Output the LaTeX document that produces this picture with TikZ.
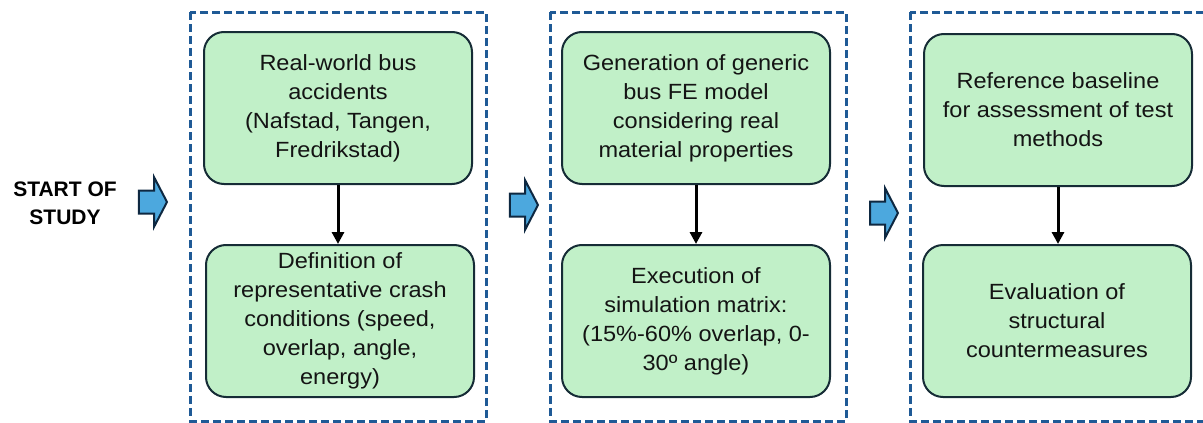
\documentclass[tikz,border=0pt]{standalone}
\usepackage{fontspec}
\setmainfont{Liberation Sans}[FakeStretch=1.07]
\newfontfamily\startfont{Liberation Sans}
\usetikzlibrary{shapes.arrows,arrows.meta}

\definecolor{stepgreen}{RGB}{193,240,200}
\definecolor{boxline}{RGB}{22,44,54}
\definecolor{phaseblue}{RGB}{31,90,150}
\definecolor{arrowblue}{RGB}{76,168,222}
\definecolor{navy}{RGB}{14,40,65}

\begin{document}
\begin{tikzpicture}[x=1pt,y=-1pt,
  stepbox/.style={draw=boxline, fill=stepgreen, rounded corners=20pt, line width=2pt,
    minimum width=268pt, minimum height=152pt, inner sep=0pt, align=center,
    text=black!92, font=\fontsize{22}{29}\selectfont},
  phase/.style={draw=phaseblue, line width=3pt, dash pattern=on 8pt off 4pt},
  go/.style={single arrow, draw=navy, fill=arrowblue, line width=2pt,
    inner xsep=0pt, inner ysep=10.5pt, minimum height=28pt,
    single arrow head extend=13pt, single arrow tip angle=125},
  link/.style={-{Triangle[length=12pt,width=12pt]}, line width=3pt}]

\useasboundingbox (0,0) rectangle (1203,423);

% Phase frames
\draw[phase] (190,12) rectangle (486,421);
\draw[phase] (550,12) rectangle (846,421);
\draw[phase] (910,12) rectangle (1206,421);

% Start label
\node[align=center, font=\startfont\bfseries\fontsize{21}{28}\selectfont] (start) at (65,203) {START OF\\STUDY};

% Flow arrows
\node[go] (go1) at (150,202) {};
\node[go] (go2) at (521,205) {};
\node[go] (go3) at (881,213) {};

% Phase 1
\node[stepbox] (acc) at (338,108) {Real-world bus\\accidents\\(Nafstad, Tangen,\\Fredrikstad)};
\node[stepbox] (cond) at (340,321) {Definition of\\representative crash\\conditions (speed,\\overlap, angle,\\energy)};

% Phase 2
\node[stepbox] (fem) at (696,108) {Generation of generic\\bus FE model\\considering real\\material properties};
\node[stepbox] (sim) at (696,321) {Execution of\\simulation matrix:\\(15\%-60\% overlap, 0-\\30º angle)};

% Phase 3
\node[stepbox] (ref) at (1058,110) {Reference baseline\\for assessment of test\\methods};
\node[stepbox] (eval) at (1057,321) {Evaluation of\\structural\\countermeasures};

% Connectors
\draw[link] (acc.south) -- (acc.south |- cond.north);
\draw[link] (fem.south) -- (fem.south |- sim.north);
\draw[link] (ref.south) -- (ref.south |- eval.north);

\end{tikzpicture}
\end{document}
